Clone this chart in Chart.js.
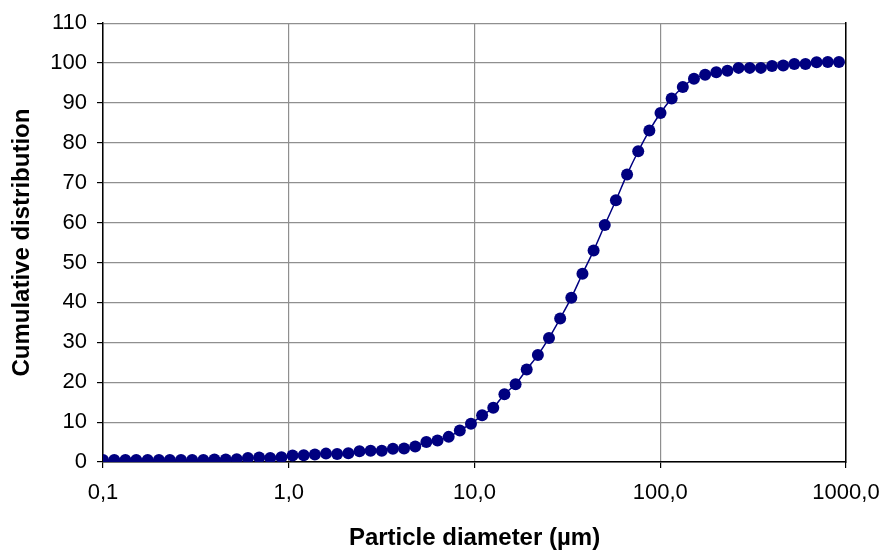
<!DOCTYPE html>
<html>
<head>
<meta charset="utf-8">
<script src="https://cdn.jsdelivr.net/npm/chart.js@4.4.0/dist/chart.umd.min.js"></script>
<style>
  html, body { margin: 0; padding: 0; background: #fff; }
  #wrap { width: 882px; height: 550px; }
</style>
</head>
<body>
<div id="wrap"><canvas id="chart" width="882" height="550"></canvas></div>
<script>
// particle size bins (um)
const diameters = [
  0.100, 0.115, 0.132, 0.151, 0.174, 0.200, 0.229, 0.263, 0.302, 0.347,
  0.398, 0.458, 0.525, 0.603, 0.693, 0.795, 0.913, 1.048, 1.204, 1.382,
  1.587, 1.822, 2.093, 2.403, 2.759, 3.168, 3.637, 4.176, 4.796, 5.506,
  6.323, 7.260, 8.336, 9.572, 10.99, 12.62, 14.49, 16.64, 19.10, 21.94,
  25.19, 28.92, 33.21, 38.13, 43.78, 50.27, 57.72, 66.28, 76.10, 87.38,
  100.3, 115.2, 132.3, 151.9, 174.4, 200.3, 230.0, 264.1, 303.2, 348.1,
  399.7, 459.0, 527.0, 605.1, 694.8, 797.8, 916.1
];

// cumulative distribution (%)
const cumulative = [
  0.5, 0.5, 0.5, 0.5, 0.5, 0.5, 0.5, 0.5, 0.5, 0.5,
  0.6, 0.6, 0.7, 1.0, 1.1, 1.0, 1.2, 1.6, 1.7, 1.9,
  2.1, 2.0, 2.2, 2.7, 2.8, 2.8, 3.3, 3.4, 3.9, 5.0,
  5.4, 6.3, 7.9, 9.6, 11.7, 13.6, 17.0, 19.5, 23.2, 26.8,
  31.1, 36.0, 41.2, 47.2, 53.0, 59.4, 65.6, 72.1, 77.9, 83.1,
  87.5, 91.1, 94.0, 96.1, 97.1, 97.7, 98.1, 98.8, 98.8, 98.8,
  99.3, 99.4, 99.8, 99.8, 100.2, 100.3, 100.3
];

const xTickValues = [0.1, 1, 10, 100, 1000];

const points = diameters.map((d, i) => ({ x: d, y: cumulative[i] }));

const navy = '#000080';
const gridGray = '#8f8f8f';
const tickFont = { family: 'Arial, "Liberation Sans", sans-serif', size: 22 };
const titleFont = { family: 'Arial, "Liberation Sans", sans-serif', size: 24, weight: 'bold', lineHeight: 1 };

new Chart(document.getElementById('chart').getContext('2d'), {
  type: 'scatter',
  data: {
    datasets: [{
      data: points,
      showLine: true,
      borderColor: navy,
      borderWidth: 1.5,
      backgroundColor: navy,
      pointBackgroundColor: navy,
      pointBorderColor: navy,
      pointBorderWidth: 0,
      pointRadius: 6,
      cubicInterpolationMode: 'monotone'
    }]
  },
  options: {
    responsive: false,
    animation: false,
    layout: { padding: { top: 22, right: 36, bottom: 0, left: 0 } },
    plugins: {
      legend: { display: false },
      tooltip: { enabled: false }
    },
    scales: {
      x: {
        type: 'logarithmic',
        min: 0.1,
        max: 1000,
        afterBuildTicks: scale => {
          scale.ticks = xTickValues.map(v => ({ value: v }));
        },
        afterFit: scale => {
          scale.height = 88;
          scale.paddingLeft = 0;
          scale.paddingRight = 0;
        },
        grid: { color: gridGray, lineWidth: 1.2, tickColor: '#000', tickLength: 6 },
        border: { color: '#000', width: 1.5 },
        ticks: {
          color: '#000',
          font: tickFont,
          padding: 12,
          maxRotation: 0,
          autoSkip: false,
          callback: v => Number(v).toFixed(1).replace('.', ',')
        },
        title: {
          display: true,
          text: 'Particle diameter (µm)',
          color: '#000',
          font: titleFont,
          padding: { top: 0, bottom: 0 }
        }
      },
      y: {
        min: 0,
        max: 110,
        afterFit: scale => { scale.width = 103; },
        grid: { color: gridGray, lineWidth: 1.2, tickColor: '#000', tickLength: 6 },
        border: { color: '#000', width: 1.5 },
        ticks: {
          stepSize: 10,
          color: '#000',
          font: tickFont,
          padding: 10
        },
        title: {
          display: true,
          text: 'Cumulative distribution',
          color: '#000',
          font: titleFont,
          padding: { top: 10, bottom: 0 }
        }
      },
      yRight: {
        position: 'right',
        min: 0,
        max: 110,
        afterFit: scale => { scale.width = 0; },
        grid: { display: false },
        border: { color: '#000', width: 1.5 },
        ticks: { display: false }
      }
    }
  }
});
</script>
</body>
</html>
